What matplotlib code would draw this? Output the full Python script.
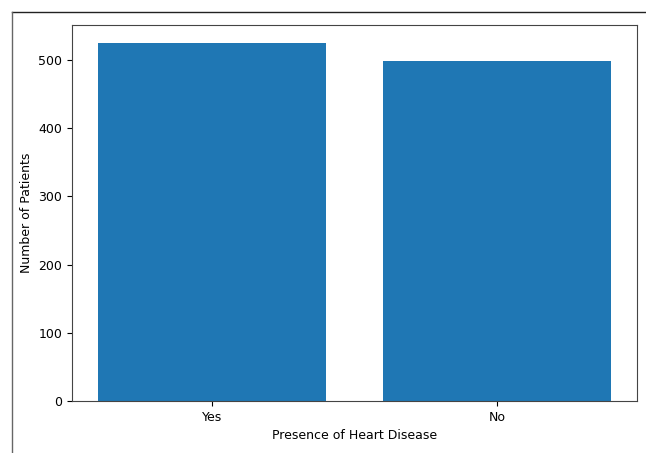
import matplotlib
matplotlib.use("Agg")
import matplotlib.pyplot as plt
from matplotlib.lines import Line2D

categories = ["Yes", "No"]
counts = [525, 498]

fig = plt.figure(figsize=(6.46, 4.53), dpi=100)
ax = fig.add_axes([72/646, 52/453, 565/646, 376/453])
ax.bar(categories, counts, color="#1f77b4")
ax.set_xlabel("Presence of Heart Disease", fontsize=9)
ax.set_ylabel("Number of Patients", fontsize=9)
ax.tick_params(labelsize=9)
for s in ax.spines.values():
    s.set_color("#444444")

# outer screenshot frame
fig.add_artist(Line2D([12/646, 1.0], [1 - 12/453, 1 - 12/453], transform=fig.transFigure, color="#222222", lw=1))
fig.add_artist(Line2D([12/646, 12/646], [0, 1 - 12/453], transform=fig.transFigure, color="#666666", lw=1))

fig.savefig("out.png", dpi=100)
